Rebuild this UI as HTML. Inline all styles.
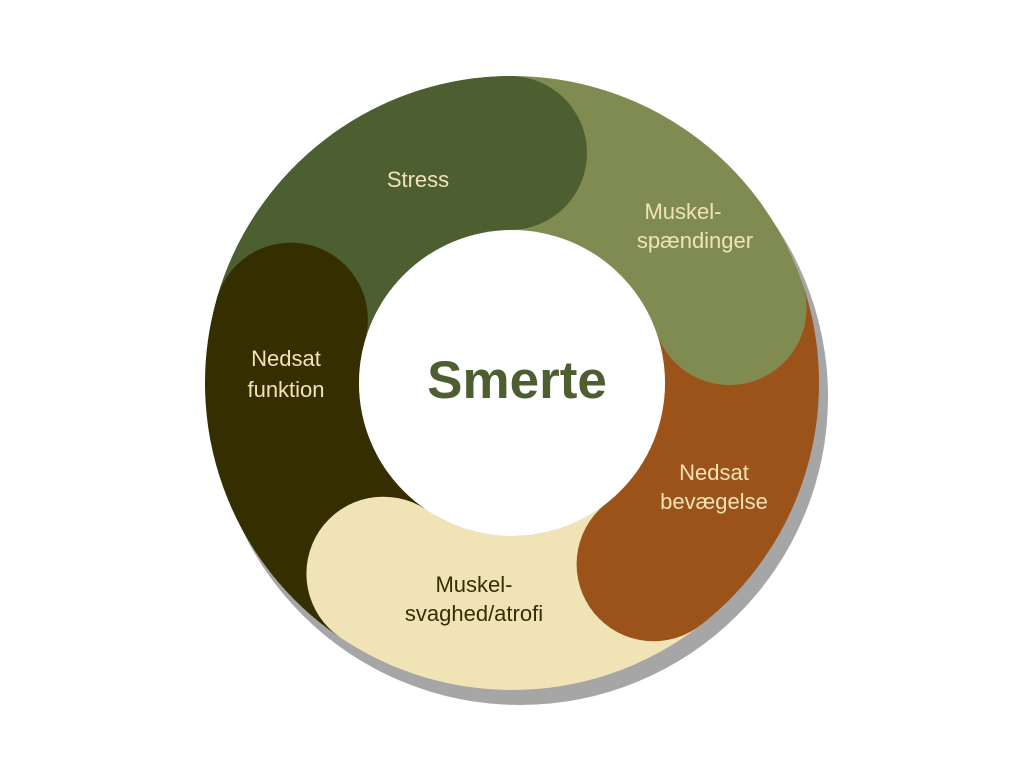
<!DOCTYPE html>
<html><head><meta charset="utf-8"><style>
html,body{margin:0;padding:0;background:#fff;width:1024px;height:768px;overflow:hidden}
svg{display:block}
text{font-family:"Liberation Sans","DejaVu Sans",sans-serif}
</style></head><body>
<svg width="1024" height="768" viewBox="0 0 1024 768">
<circle cx="520" cy="397" r="308" fill="#a6a6a6"/>
<g fill="none" stroke-width="154">
<path d="M290.9,319.6 A230,230 0 0 1 512,153" stroke="#4d5e31"/>
<path d="M383.4,573.7 A230,230 0 0 1 290.9,319.6" stroke="#352e00"/>
<path d="M653.6,564.2 A230,230 0 0 1 383.4,573.7" stroke="#f0e3b6"/>
<path d="M729.5,308.1 A230,230 0 0 1 653.6,564.2" stroke="#9c531a"/>
<path d="M512,153 A230,230 0 0 1 729.5,308.1" stroke="#808b52"/>
<path d="M290.9,319.6 A230,230 0 0 1 512,153" stroke="#4d5e31"/>
</g>
<circle cx="510" cy="153" r="77" fill="#4d5e31"/>
<circle cx="729.5" cy="308.1" r="77" fill="#808b52"/>
<circle cx="653.6" cy="564.2" r="77" fill="#9c531a"/>
<circle cx="383.4" cy="573.7" r="77" fill="#f0e3b6"/>
<circle cx="290.9" cy="319.6" r="77" fill="#352e00"/>
<circle cx="512" cy="383" r="153" fill="#fff"/>
<text x="517" y="398" text-anchor="middle" font-size="53" font-weight="bold" fill="#4d5e31">Smerte</text>
<g font-size="22" fill="#f0e3b6" text-anchor="middle">
<text x="418" y="187">Stress</text>
<text x="683" y="219">Muskel-</text>
<text x="695" y="248">spændinger</text>
<text x="714" y="480">Nedsat</text>
<text x="714" y="509">bevægelse</text>
<text x="286" y="366">Nedsat</text>
<text x="286" y="397">funktion</text>
<text x="474" y="592" fill="#352e00">Muskel-</text>
<text x="474" y="621" fill="#352e00">svaghed/atrofi</text>
</g>
</svg>
</body></html>
